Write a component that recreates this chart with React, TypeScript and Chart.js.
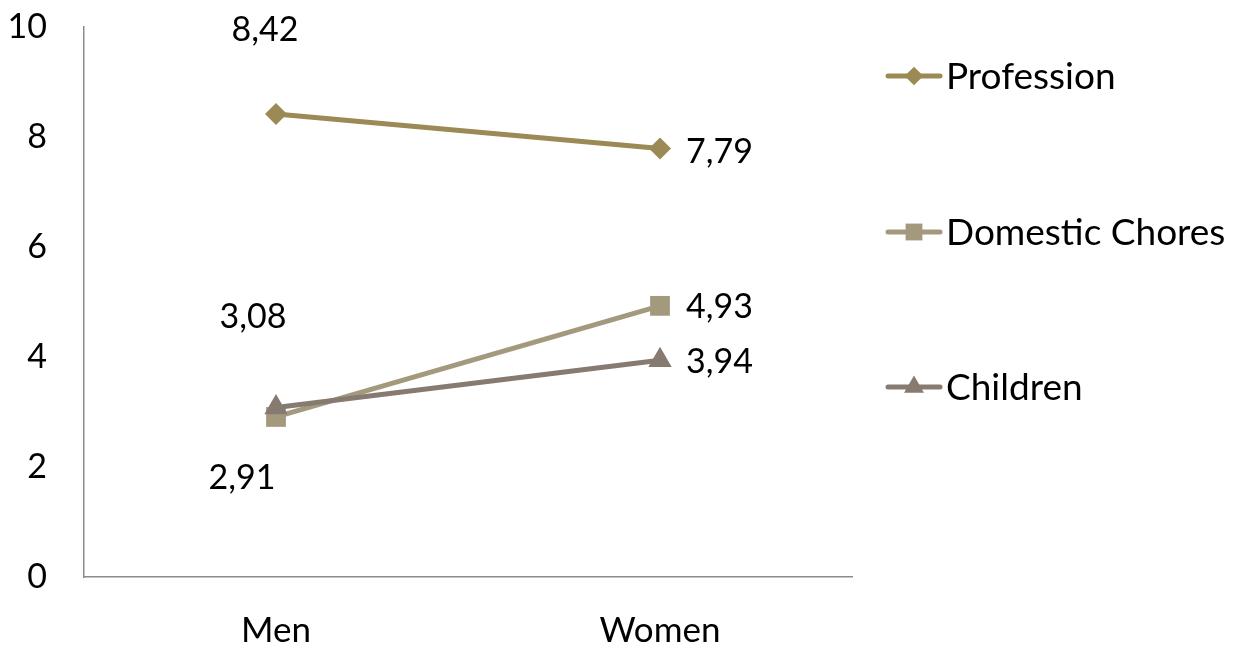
import React, { useEffect, useRef } from "react";
import { Chart, registerables } from "chart.js";

Chart.register(...registerables);

const categories = ["Men", "Women"];
const seriesNames = ["Profession", "Domestic Chores", "Children"];
const profession = [8.42, 7.79];
const domestic = [2.91, 4.93];
const children = [3.08, 3.94];
const yTicks = [0, 2, 4, 6, 8, 10];

const colors = ["#9B8A55", "#A39A7E", "#877A70"];
const pointStyles = ["rectRot", "rect", "triangle"];
const pointRadii = [11, 14, 13.5];
// label offsets in px relative to point: [dx, dy, align]
const labelOffsets: [number, number, CanvasTextAlign][][] = [
  [[-11, -84, "center"], [26, 3, "left"]],
  [[-34, 61, "center"], [26, 1, "left"]],
  [[-23, -91, "center"], [26, 2, "left"]],
];

const FONT = "Lato, 'Open Sans', sans-serif";

const fmt = (v: number) => v.toFixed(2).replace(".", ",");

function drawMarker(ctx: CanvasRenderingContext2D, style: string, r: number, x: number, y: number) {
  ctx.beginPath();
  if (style === "rectRot") {
    ctx.moveTo(x - r, y);
    ctx.lineTo(x, y - r);
    ctx.lineTo(x + r, y);
    ctx.lineTo(x, y + r);
  } else if (style === "rect") {
    const s = Math.SQRT1_2 * r;
    ctx.rect(x - s, y - s, 2 * s, 2 * s);
  } else {
    ctx.moveTo(x, y - r);
    ctx.lineTo(x + r * Math.sin((2 * Math.PI) / 3), y - r * Math.cos((2 * Math.PI) / 3));
    ctx.lineTo(x + r * Math.sin((4 * Math.PI) / 3), y - r * Math.cos((4 * Math.PI) / 3));
  }
  ctx.closePath();
  ctx.fill();
}

const labelPlugin = {
  id: "customLabels",
  afterDraw(chart: any) {
    const ctx = chart.ctx;
    ctx.save();
    ctx.font = `34px ${FONT}`;
    ctx.fillStyle = "#000";
    ctx.textBaseline = "middle";
    chart.data.datasets.forEach((ds: any, i: number) => {
      const meta = chart.getDatasetMeta(i);
      meta.data.forEach((pt: any, j: number) => {
        const [dx, dy, align] = labelOffsets[i][j];
        ctx.textAlign = align;
        ctx.fillText(fmt(ds.data[j]), pt.x + dx, pt.y + dy);
      });
    });
    // legend
    const legendYs = [76, 232, 387];
    seriesNames.forEach((name, i) => {
      const y = legendYs[i];
      ctx.strokeStyle = colors[i];
      ctx.lineWidth = 5;
      ctx.lineCap = "round";
      ctx.beginPath();
      ctx.moveTo(888, y);
      ctx.lineTo(940, y);
      ctx.stroke();
      ctx.fillStyle = colors[i];
      drawMarker(ctx, pointStyles[i], pointRadii[i] * 0.85, 914, y);
      ctx.fillStyle = "#000";
      ctx.textAlign = "left";
      ctx.font = `37px ${FONT}`;
      ctx.fillText(name, 946, y + 1);
    });
    ctx.restore();
  },
};

export default function App() {
  const ref = useRef<HTMLCanvasElement>(null);
  useEffect(() => {
    document.body.style.margin = "0";
    const datasets = [profession, domestic, children].map((d, i) => ({
      label: seriesNames[i],
      data: d,
      borderColor: colors[i],
      backgroundColor: colors[i],
      borderWidth: 5,
      pointStyle: pointStyles[i],
      pointRadius: pointRadii[i],
      pointBorderWidth: 0,
      pointBackgroundColor: colors[i],
      order: 2 - i,
      tension: 0,
    }));
    const chart = new Chart(ref.current!, {
      type: "line",
      data: { labels: categories, datasets: datasets as any },
      options: {
        animation: false,
        responsive: false,
        layout: { autoPadding: false, padding: { top: 27, right: 387, left: 0, bottom: 0 } },
        plugins: { legend: { display: false }, tooltip: { enabled: false } },
        scales: {
          x: {
            offset: true,
            grid: { display: false, drawTicks: false },
            border: { display: true, color: "#8C8C8C", width: 1.5 },
            ticks: { color: "#000", font: { size: 35, family: FONT }, padding: 33 },
            afterFit: (s: any) => { s.height = 68; },
          },
          y: {
            min: 0,
            max: 10,
            afterBuildTicks: (s: any) => { s.ticks = yTicks.map((v) => ({ value: v })); },
            grid: { display: false, drawTicks: false },
            border: { display: true, color: "#8C8C8C", width: 1.5 },
            ticks: { color: "#000", font: { size: 34, family: FONT }, padding: 37 },
            afterFit: (s: any) => { s.width = 84; s.paddingTop = 0; s.paddingBottom = 0; },
          },
        },
      },
      plugins: [labelPlugin],
    } as any);
    return () => chart.destroy();
  }, []);
  return (
    <div style={{ position: "fixed", left: 0, top: 0, width: 1239, height: 645, background: "#fff" }}>
      <canvas ref={ref} width={1239} height={645} />
    </div>
  );
}
